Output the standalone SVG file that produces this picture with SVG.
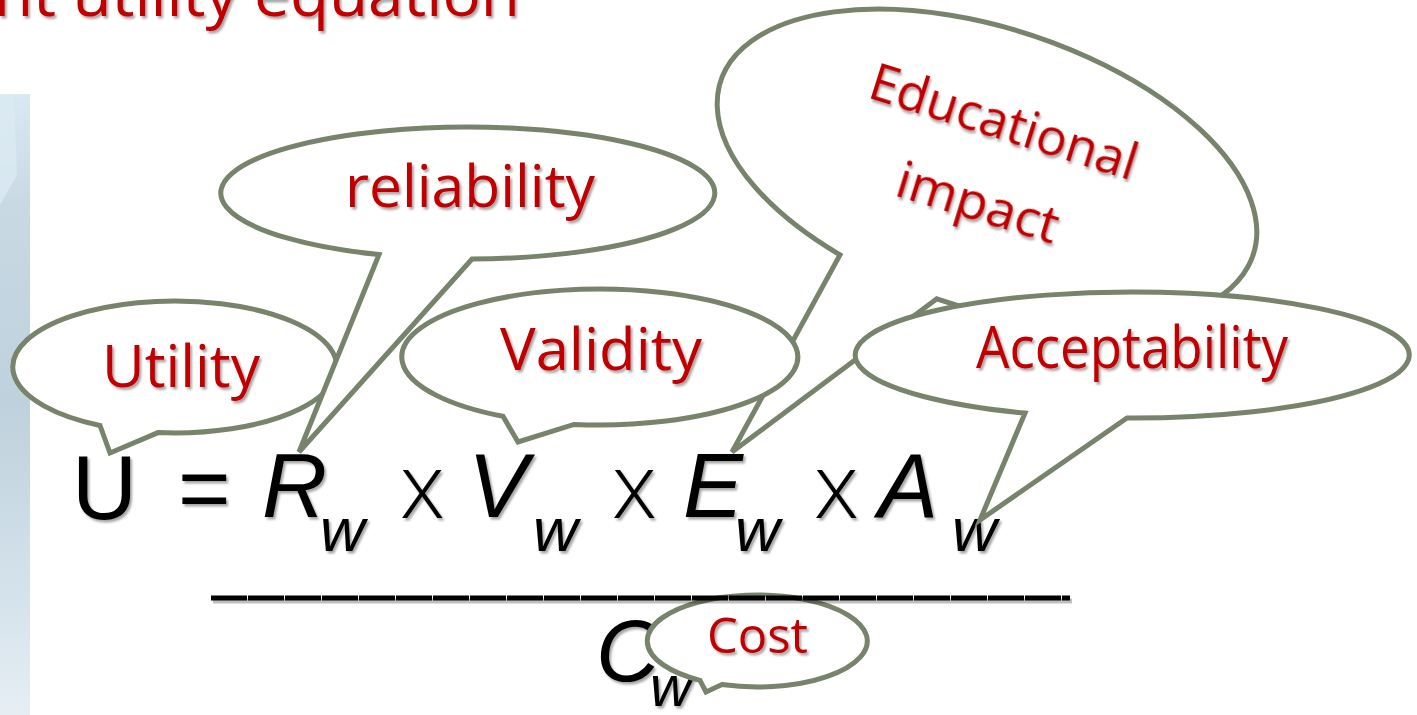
<svg xmlns="http://www.w3.org/2000/svg" width="1417" height="715" viewBox="0 0 1417 715">
<defs>
<linearGradient id="panel" x1="0" y1="0" x2="0" y2="1">
<stop offset="0" stop-color="#d9e9f3"/>
<stop offset="0.18" stop-color="#c8d9e4"/>
<stop offset="0.5" stop-color="#bfd1dc"/>
<stop offset="0.8" stop-color="#d4e2eb"/>
<stop offset="1" stop-color="#e6eef4"/>
</linearGradient>
<filter id="sh" x="-20%" y="-20%" width="140%" height="150%">
<feDropShadow dx="2" dy="2.5" stdDeviation="1.3" flood-color="#000" flood-opacity="0.35"/>
</filter>
</defs>
<style>
.co{fill:#fff;stroke:#77836a;stroke-width:5;stroke-linejoin:miter}
.lbl{font-family:"Open Sans","Noto Sans",sans-serif;font-weight:500;fill:#c00000;font-size:58px;filter:url(#sh)}
.eq{font-family:"Liberation Sans",Arial,sans-serif;fill:#000;font-size:90px;filter:url(#sh)}
.it{font-style:italic}
.sub{font-size:62px;font-style:italic}
.op{font-family:"Open Sans","Noto Sans",sans-serif;font-weight:300;font-size:90px}
</style>
<rect width="1417" height="715" fill="#fff"/>
<g id="panel-left">
<rect x="0" y="94" width="30" height="621" fill="url(#panel)"/>
<polygon points="0,94 14,94 17,175 0,205" fill="#dbeaf3" opacity="0.8"/>
</g>
<g id="title">
<text x="-6" y="16" class="lbl" style="font-size:62px" textLength="526" lengthAdjust="spacingAndGlyphs">nt utility equation</text>
</g>
<g id="equation">
<text x="72" y="519" class="eq">U</text>
<text x="178" y="519" class="eq">=</text>
<text x="262" y="517" class="eq it">R</text>
<text x="320" y="551" class="eq sub">w</text>
<text x="400" y="518" class="eq op">x</text>
<text x="468" y="517" class="eq it">V</text>
<text x="533" y="551" class="eq sub">w</text>
<text x="612" y="518" class="eq op">x</text>
<text x="683" y="517" class="eq it">E</text>
<text x="735" y="551" class="eq sub">w</text>
<text x="814" y="518" class="eq op">x</text>
<text x="878" y="517" class="eq it">A</text>
<text x="952" y="551" class="eq sub">w</text>
<text x="596" y="681" class="eq it" style="font-size:88px">C</text>
<text x="650" y="706" class="eq sub" style="font-size:58px">w</text>
</g>
<g id="callout-educational">
<path class="co" d="M 840,254.9 L 732,452 L 936.8,298.8 A 280 140 18 1 0 840,254.9 Z"/>
<text class="lbl" style="font-size:52px" transform="translate(866,97) rotate(17.5)" textLength="278" lengthAdjust="spacingAndGlyphs">Educational</text>
<text class="lbl" style="font-size:52px" transform="translate(893,195) rotate(17)" textLength="167" lengthAdjust="spacingAndGlyphs">impact</text>
</g>
<g id="callout-utility">
<path class="co" d="M 100,425.5 L 110,453 L 158,432.6 A 162 66 0 1 0 100,425.5 Z"/>
<text x="102" y="387" class="lbl" textLength="158" lengthAdjust="spacingAndGlyphs">Utility</text>
</g>
<g id="callout-validity">
<path class="co" d="M 503,416.3 L 518,442 L 574,424.4 A 198 68 0 1 0 503,416.3 Z"/>
<text x="500" y="370" class="lbl" textLength="202" lengthAdjust="spacingAndGlyphs">Validity</text>
</g>
<g id="callout-reliability">
<path class="co" d="M 379,254.6 L 299,452 L 472,259 A 247 66 0 1 0 379,254.6 Z"/>
<text x="345" y="207" class="lbl" textLength="250" lengthAdjust="spacingAndGlyphs">reliability</text>
</g>
<g id="callout-acceptability">
<path class="co" d="M 1025,413.1 L 980,520 L 1127,418 A 277 63 0 1 0 1025,413.1 Z"/>
<text x="976" y="368" class="lbl" textLength="312" lengthAdjust="spacingAndGlyphs">Acceptability</text>
</g>
<g id="callout-cost">
<path class="co" d="M 700,680.3 L 706,692 L 722,684.6 A 110 46 0 1 0 700,680.3 Z"/>
<text x="707" y="653" class="lbl" style="font-size:50px" textLength="101" lengthAdjust="spacingAndGlyphs">Cost</text>
</g>
<g id="fraction-line">
<line x1="213" y1="601" x2="1072" y2="601" stroke="#000" stroke-opacity="0.25" stroke-width="5"/>
<line x1="211" y1="598" x2="1070" y2="598" stroke="#000" stroke-width="5" stroke-dasharray="36 1"/>
</g>
</svg>
